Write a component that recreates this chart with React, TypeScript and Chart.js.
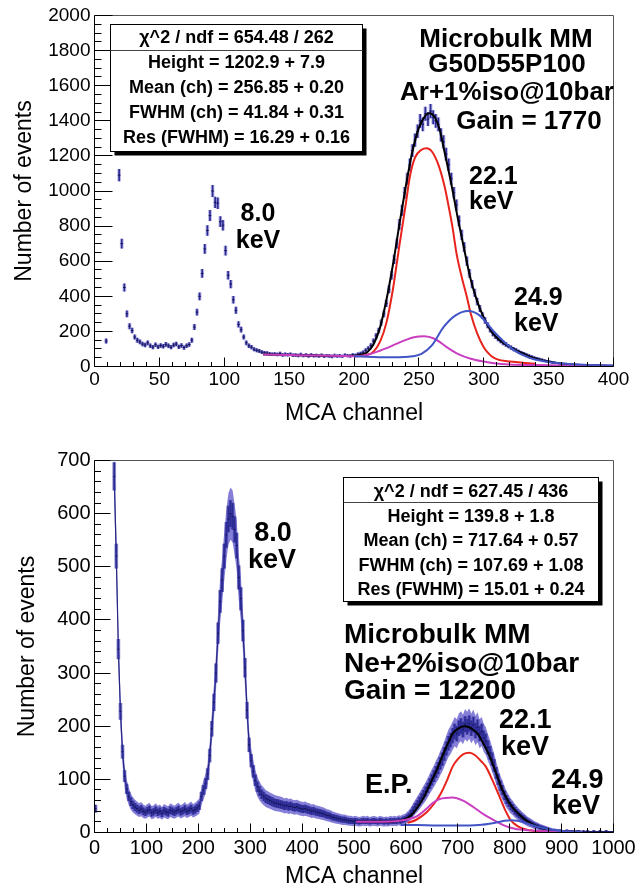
import React, { useEffect, useRef } from 'react';
import { Chart, registerables } from 'chart.js';

Chart.register(...registerables);

const FONT = '"Liberation Sans", Arial, Helvetica, sans-serif';

// ---------------- Panel 1 (Ar+1%iso) ----------------
const topBinStart = 9; // centre of first 2-channel bin
const topBinWidth = 2;
const topCounts: (number | null)[] = [
  145, null, null, null, null, 1090, 700, 450, 300, 230, // 9..27
  205, 168, 150, 140, 128, 122, 135, 118, 110, 124, // 29..47
  112, 120, 115, 126, 118, 110, 122, 128, 112, 120, // 49..67
  108, 118, 125, 150, 225, 310, 400, 530, 670, 775, // 69..87
  860, 1000, 935, 930, 825, 805, 660, 520, 470, 380, // 89..107
  320, 240, 210, 168, 135, 118, 110, 98, 92, 88, // 109..127
  82, 78, 76, 72, 70, 71, 68, 74, 66, 69, // 129..147
  67, 70, 64, 66, 63, 68, 62, 65, 60, 66, // 149..167
  61, 63, 59, 64, 58, 62, 60, 57, 63, 59, // 169..187
  61, 58, 64, 62, 60, 66, 63, 70, 74, 80, // 189..207
  92, 104, 120, 145, 175, 205, 250, 300, 360, 440, // 209..227
  520, 610, 700, 810, 890, 990, 1070, 1150, 1230, 1290, // 229..247
  1340, 1400, 1380, 1440, 1410, 1455, 1420, 1400, 1380, 1320, // 249..267
  1280, 1210, 1150, 1070, 990, 920, 830, 750, 680, 600, // 269..287
  530, 470, 420, 370, 330, 290, 262, 235, 210, 188, // 289..307
  172, 158, 146, 134, 126, 116, 108, 99, 92, 84, // 309..327
  78, 72, 65, 60, 55, 50, 46, 42, 38, 34, // 329..347
  30, 27, 24, 22, 20, 18, 16, 15, 14, 12, // 349..367
  11, 10, 11, 9, 8, 9, 7, 8, 6, 7, // 369..387
  6, 5, 6, 4, 5, 4, // 389..399
];
const topFitTotal: [number, number][] = [
  [130, 68], [150, 65], [170, 62], [190, 60], [200, 61], [205, 66], [210, 80], [215, 125],
  [220, 220], [225, 380], [230, 580], [235, 810], [240, 1030], [245, 1225], [250, 1360],
  [255, 1430], [258, 1443], [262, 1425], [266, 1350], [270, 1215], [275, 1040], [280, 845],
  [285, 665], [290, 495], [295, 370], [300, 280], [305, 210], [310, 165], [315, 135],
  [320, 112], [325, 92], [330, 74], [335, 58], [340, 45], [350, 27], [360, 16], [370, 10],
  [380, 7], [390, 5], [400, 4],
];
const topFit221: [number, number][] = [
  [200, 58], [210, 66], [215, 85], [220, 140], [225, 250], [230, 440], [235, 690], [240, 930],
  [243, 1080], [247, 1190], [252, 1235], [256, 1243], [260, 1225], [265, 1150], [270, 1020],
  [273, 910], [276, 790], [279, 645], [283, 510], [287, 396], [290, 300], [295, 187],
  [300, 110], [303, 80], [306, 58], [310, 42], [320, 28], [330, 22], [340, 15],
];
const topFitEscape: [number, number][] = [
  [130, 68], [150, 65], [170, 62], [190, 60], [200, 59], [210, 66], [220, 90], [230, 120],
  [240, 152], [247, 168], [254, 172], [262, 158], [272, 108], [280, 72], [290, 44], [300, 28],
  [308, 19], [320, 12], [340, 8], [360, 6], [380, 5], [400, 4],
];
const topFit249: [number, number][] = [
  [200, 58], [215, 54], [230, 52], [245, 58], [252, 72], [260, 120], [269, 224], [278, 290],
  [288, 316], [297, 290], [307, 205], [315, 145], [323, 95], [335, 50], [346, 30], [360, 17],
  [380, 9], [400, 5],
];
const topStats = [
  'χ^2 / ndf = 654.48 / 262',
  'Height = 1202.9 + 7.9',
  'Mean (ch) = 256.85 + 0.20',
  'FWHM (ch) = 41.84 + 0.31',
  'Res (FWHM) = 16.29 + 0.16',
];

// ---------------- Panel 2 (Ne+2%iso) ----------------
const botBinStart = 2; // centre of first 4-channel bin
const botBinWidth = 4;
const botCounts: (number | null)[] = [
  45, null, null, null, null, null, null, null, null, 670, // 2..38
  520, 345, 228, 152, 106, 82, 68, 58, 52, 48, // 42..78
  45, 42, 44, 40, 38, 41, 43, 37, 39, 42, // 82..118
  38, 40, 36, 41, 39, 37, 42, 40, 38, 41, // 122..158
  43, 39, 41, 44, 40, 42, 45, 41, 43, 46, // 162..198
  50, 68, 80, 92, 110, 145, 195, 245, 300, 375, // 202..238
  435, 475, 520, 560, 590, 600, 595, 570, 540, 480, // 242..278
  440, 380, 310, 230, 165, 135, 115, 98, 86, 78, // 282..318
  72, 68, 64, 62, 60, 58, 56, 55, 54, 53, // 322..358
  52, 50, 51, 49, 50, 48, 47, 48, 46, 45, // 362..398
  44, 45, 43, 42, 40, 41, 39, 38, 37, 36, // 402..438
  35, 33, 32, 31, 29, 28, 27, 26, 25, 24, // 442..478
  24, 23, 22, 22, 21, 22, 21, 20, 21, 22, // 482..518
  21, 22, 20, 21, 22, 21, 20, 22, 21, 20, // 522..558
  21, 20, 22, 21, 22, 21, 23, 22, 24, 25, // 562..598
  28, 31, 36, 42, 48, 53, 59, 65, 71, 77, // 602..638
  84, 92, 99, 106, 114, 121, 130, 138, 148, 158, // 642..678
  168, 174, 182, 190, 186, 196, 200, 194, 204, 199, // 682..718
  205, 196, 203, 192, 198, 186, 190, 178, 172, 160, // 722..758
  150, 138, 126, 112, 100, 88, 80, 70, 62, 56, // 762..798
  50, 46, 41, 37, 33, 30, 27, 24, 21, 19, // 802..838
  17, 15, 13, 12, 10, 9, 8, 7, 6, 5, // 842..878
  4, 4, 3, 3, 3, 2, 2, 3, 2, 2, // 882..918
  2, 1, 2, 2, 1, 2, 1, 2, 1, 1, // 922..958
  2, 1, 1, 2, 1, 1, 2, 1, 1, 1, // 962..998
];
const botFitTotal: [number, number][] = [
  [504, 20], [530, 20], [560, 20], [580, 21], [595, 24], [611, 33], [623, 48], [635, 67],
  [647, 92], [659, 117], [667, 136], [675, 155], [683, 172], [690, 186], [700, 195],
  [712, 200], [722, 198], [730, 193], [738, 186], [750, 166], [762, 142], [774, 111],
  [786, 80], [798, 58], [810, 42], [825, 28], [841, 17], [860, 9], [881, 4], [910, 2], [940, 1],
];
const botFit221: [number, number][] = [
  [603, 18], [620, 24], [640, 38], [655, 55], [667, 73], [680, 100], [690, 124], [700, 138],
  [710, 147], [722, 150], [734, 145], [745, 134], [754, 124], [766, 100], [778, 73], [790, 45],
  [802, 23], [815, 12], [833, 5], [860, 2], [900, 1], [940, 1],
];
const botFitEscape: [number, number][] = [
  [504, 20], [560, 20], [600, 24], [620, 30], [640, 45], [651, 55], [665, 63], [690, 66],
  [710, 60], [730, 48], [750, 34], [770, 23], [790, 13], [810, 7], [840, 4], [880, 2], [940, 1],
];
const botFit249: [number, number][] = [
  [590, 14], [620, 14], [660, 13], [700, 13], [740, 14], [770, 18], [790, 22], [802, 23],
  [815, 22], [830, 18], [850, 12], [870, 7], [900, 3], [940, 1],
];
const botStats = [
  'χ^2 / ndf = 627.45 / 436',
  'Height = 139.8 + 1.8',
  'Mean (ch) = 717.64 + 0.57',
  'FWHM (ch) = 107.69 + 1.08',
  'Res (FWHM) = 15.01 + 0.24',
];

// ---------------- layout / styling ----------------
type Txt = { t: string; x: number; y: number; align: CanvasTextAlign; size: number };
type PanelCfg = {
  height: number;
  padTop: number;
  padRight: number;
  yAxisWidth: number;
  xAxisHeight: number;
  xMax: number; xStep: number; xMinor: number;
  yMax: number; yStep: number; yMinor: number;
  yMajLen: number; yMinLen: number; xMajLen: number; xMinLen: number;
  tickSize: number; xTickPad: number; xTitlePad: number; yTitlePad: number;
  binStart: number; binWidth: number; counts: (number | null)[];
  fits: [number, number][][];
  markerRadius: number;
  bandSigma: number; // 0 = no shaded spread band
  stats: string[];
  box: { x: number; y: number; w: number; h: number; div: number; rows: number[] };
  texts: Txt[];
};

const topPanel: PanelCfg = {
  height: 440, padTop: 15.5, padRight: 28.5, yAxisWidth: 94.5, xAxisHeight: 73.5,
  xMax: 400, xStep: 50, xMinor: 10, yMax: 2000, yStep: 200, yMinor: 50,
  yMajLen: 18, yMinLen: 7, xMajLen: 9, xMinLen: 4.5,
  tickSize: 19, xTickPad: 2, xTitlePad: 14.5, yTitlePad: 13.5,
  binStart: topBinStart, binWidth: topBinWidth, counts: topCounts,
  fits: [topFitTotal, topFit221, topFitEscape, topFit249],
  markerRadius: 1.3,
  bandSigma: 0,
  stats: topStats,
  box: { x: 110.5, y: 24.5, w: 252, h: 127, div: 50.5, rows: [36.7, 62, 87, 112, 137] },
  texts: [
    { t: 'Microbulk MM', x: 506, y: 37.5, align: 'center', size: 26 },
    { t: 'G50D55P100', x: 507, y: 62.5, align: 'center', size: 26 },
    { t: 'Ar+1%iso@10bar', x: 507, y: 91, align: 'center', size: 26 },
    { t: 'Gain = 1770', x: 529, y: 120, align: 'center', size: 26 },
    { t: '8.0', x: 258, y: 212, align: 'center', size: 25 },
    { t: 'keV', x: 258, y: 239, align: 'center', size: 25 },
    { t: '22.1', x: 469, y: 175, align: 'left', size: 25 },
    { t: 'keV', x: 469, y: 200, align: 'left', size: 25 },
    { t: '24.9', x: 514, y: 296, align: 'left', size: 25 },
    { t: 'keV', x: 514, y: 322, align: 'left', size: 25 },
  ],
};

const bottomPanel: PanelCfg = {
  height: 447, padTop: 20.5, padRight: 28.5, yAxisWidth: 94.5, xAxisHeight: 54.5,
  xMax: 1000, xStep: 100, xMinor: 25, yMax: 700, yStep: 100, yMinor: 20,
  yMajLen: 16, yMinLen: 6.5, xMajLen: 9, xMinLen: 4.5,
  tickSize: 20, xTickPad: 4, xTitlePad: -1.5, yTitlePad: 16.5,
  binStart: botBinStart, binWidth: botBinWidth, counts: botCounts,
  fits: [botFitTotal, botFit221, botFitEscape, botFit249],
  markerRadius: 1,
  bandSigma: 2,
  stats: botStats,
  box: { x: 343.5, y: 37.5, w: 255, h: 124, div: 62.5, rows: [50.7, 76, 100, 124.3, 148.3] },
  texts: [
    { t: '8.0', x: 273, y: 91.7, align: 'center', size: 27 },
    { t: 'keV', x: 272, y: 118, align: 'center', size: 27 },
    { t: 'Microbulk MM', x: 344, y: 192.5, align: 'left', size: 28 },
    { t: 'Ne+2%iso@10bar', x: 344, y: 222, align: 'left', size: 28 },
    { t: 'Gain = 12200', x: 344, y: 249, align: 'left', size: 28 },
    { t: '22.1', x: 499, y: 278, align: 'left', size: 27 },
    { t: 'keV', x: 501, y: 305, align: 'left', size: 27 },
    { t: 'E.P.', x: 365, y: 343, align: 'left', size: 27 },
    { t: '24.9', x: 551, y: 338, align: 'left', size: 27 },
    { t: 'keV', x: 552, y: 364, align: 'left', size: 27 },
  ],
};

const FIT_COLORS = ['#000000', '#e8231c', '#c93fc0', '#4254c6'];

function decorPlugin(cfg: PanelCfg) {
  return {
    id: 'rootDecor',
    afterDraw(chart: any) {
      const { ctx, chartArea: a } = chart;
      const xs = chart.scales.x;
      const ys = chart.scales.y;
      ctx.save();
      // frame
      ctx.lineWidth = 1;
      ctx.strokeStyle = '#555';
      ctx.beginPath();
      ctx.moveTo(a.left, a.top);
      ctx.lineTo(a.right, a.top);
      ctx.lineTo(a.right, a.bottom);
      ctx.stroke();
      ctx.strokeStyle = '#000';
      ctx.beginPath();
      ctx.moveTo(a.left, a.top);
      ctx.lineTo(a.left, a.bottom);
      ctx.lineTo(a.right, a.bottom);
      ctx.stroke();
      // inner ticks
      ctx.beginPath();
      const nY = Math.round(cfg.yMax / cfg.yMinor);
      for (let i = 0; i <= nY; i++) {
        const v = i * cfg.yMinor;
        const major = Math.abs(v / cfg.yStep - Math.round(v / cfg.yStep)) < 1e-6;
        const py = Math.round(ys.getPixelForValue(v) - 0.5) + 0.5;
        ctx.moveTo(a.left, py);
        ctx.lineTo(a.left + (major ? cfg.yMajLen : cfg.yMinLen), py);
      }
      const nX = Math.round(cfg.xMax / cfg.xMinor);
      for (let i = 0; i <= nX; i++) {
        const v = i * cfg.xMinor;
        const major = Math.abs(v / cfg.xStep - Math.round(v / cfg.xStep)) < 1e-6;
        const px = Math.round(xs.getPixelForValue(v) - 0.5) + 0.5;
        ctx.moveTo(px, a.bottom);
        ctx.lineTo(px, a.bottom - (major ? cfg.xMajLen : cfg.xMinLen));
      }
      ctx.stroke();
      // stats box
      const b = cfg.box;
      ctx.fillStyle = '#000';
      ctx.fillRect(b.x + 4, b.y + 4, b.w, b.h);
      ctx.fillStyle = '#fff';
      ctx.fillRect(b.x, b.y, b.w, b.h);
      ctx.strokeStyle = '#000';
      ctx.strokeRect(b.x, b.y, b.w, b.h);
      ctx.strokeStyle = '#444';
      ctx.beginPath();
      ctx.moveTo(b.x, b.div);
      ctx.lineTo(b.x + b.w, b.div);
      ctx.stroke();
      ctx.fillStyle = '#000';
      ctx.textAlign = 'center';
      ctx.textBaseline = 'alphabetic';
      ctx.font = `bold 18px ${FONT}`;
      cfg.stats.forEach((s, i) => {
        ctx.fillText(s, b.x + b.w / 2, b.rows[i] + 0.36 * 18);
      });
      // annotations
      cfg.texts.forEach((t) => {
        ctx.font = `bold ${t.size}px ${FONT}`;
        ctx.textAlign = t.align;
        ctx.fillText(t.t, t.x, t.y + 0.36 * t.size);
      });
      ctx.restore();
    },
  };
}

function buildConfig(cfg: PanelCfg): any {
  const pts: { x: number; v: number }[] = [];
  cfg.counts.forEach((v, i) => {
    if (v != null) pts.push({ x: cfg.binStart + i * cfg.binWidth, v });
  });
  // Poisson error bars (±sqrt(N)) around each bin value
  const errData = pts.map((p) => ({ x: p.x, y: [p.v - Math.sqrt(p.v), p.v + Math.sqrt(p.v)] }));
  const fitSets = cfg.fits.map((f, i) => ({
    type: 'line',
    data: f.map(([x, y]) => ({ x, y })),
    borderColor: FIT_COLORS[i],
    borderWidth: 2,
    pointRadius: 0,
    fill: false,
    cubicInterpolationMode: 'monotone',
    order: 4 - i,
  }));
  const k = cfg.bandSigma;
  const binX = (i: number) => cfg.binStart + i * cfg.binWidth;
  const bandSets = k > 0
    ? [
        {
          type: 'line',
          data: cfg.counts.map((v, i) => ({ x: binX(i), y: v == null ? null : Math.max(0, v - k * Math.sqrt(v)) })),
          borderWidth: 0, pointRadius: 0, fill: false, order: 13, spanGaps: false,
          borderColor: 'rgba(0,0,0,0)',
        },
        {
          type: 'line',
          data: cfg.counts.map((v, i) => ({ x: binX(i), y: v == null ? null : v + k * Math.sqrt(v) })),
          borderWidth: 0, pointRadius: 0, fill: '-1', order: 12, spanGaps: false,
          borderColor: 'rgba(0,0,0,0)', backgroundColor: 'rgba(112,104,208,0.85)',
        },
        {
          type: 'line',
          data: cfg.counts.map((v, i) => ({ x: binX(i), y: v })),
          borderWidth: 1.2, pointRadius: 0, fill: false, order: 11, spanGaps: false,
          borderColor: '#25257f',
        },
      ]
    : [];
  const tickFont = { family: FONT, size: cfg.tickSize };
  return {
    type: 'line',
    data: {
      datasets: [
        ...bandSets,
        {
          type: 'bar', data: errData, backgroundColor: k > 0 ? 'rgba(60,55,170,0.6)' : 'rgba(125,118,215,0.55)',
          barThickness: 3, grouped: false, order: 10,
        },
        {
          type: 'bar', data: errData, backgroundColor: '#2b2b92',
          barThickness: 1, grouped: false, order: 9,
        },
        {
          type: 'line', data: pts.map((p) => ({ x: p.x, y: p.v })), showLine: false,
          pointStyle: 'line', pointRadius: cfg.markerRadius, pointBorderWidth: 1,
          pointBorderColor: '#141450', order: 8,
        },
        ...fitSets,
      ],
    },
    options: {
      responsive: false,
      animation: false,
      devicePixelRatio: 1,
      events: [],
      layout: { padding: { top: cfg.padTop, right: cfg.padRight, left: 0, bottom: 0 } },
      plugins: {
        legend: { display: false }, tooltip: { enabled: false }, title: { display: false },
        filler: { propagate: false },
      },
      scales: {
        x: {
          type: 'linear', min: 0, max: cfg.xMax, offset: false,
          afterFit: (s: any) => { s.height = cfg.xAxisHeight; },
          grid: { display: false, drawTicks: false },
          border: { display: false },
          ticks: {
            stepSize: cfg.xStep, autoSkip: false, maxRotation: 0, padding: cfg.xTickPad,
            color: '#000', font: tickFont, callback: (v: number) => String(v),
          },
          title: {
            display: true, text: 'MCA channel', color: '#000',
            font: { family: FONT, size: 23, lineHeight: 1 },
            padding: { top: 0, bottom: cfg.xTitlePad },
          },
        },
        y: {
          type: 'linear', min: 0, max: cfg.yMax,
          afterFit: (s: any) => { s.width = cfg.yAxisWidth; },
          grid: { display: false, drawTicks: false },
          border: { display: false },
          ticks: {
            stepSize: cfg.yStep, autoSkip: false, padding: 4,
            color: '#000', font: tickFont, callback: (v: number) => String(v),
          },
          title: {
            display: true, text: 'Number of events', color: '#000',
            font: { family: FONT, size: 23, lineHeight: 1 },
            padding: { top: cfg.yTitlePad, bottom: 0 },
          },
        },
      },
    },
    plugins: [decorPlugin(cfg)],
  };
}

function Panel({ cfg }: { cfg: PanelCfg }) {
  const ref = useRef<HTMLCanvasElement>(null);
  useEffect(() => {
    const chart = new Chart(ref.current as HTMLCanvasElement, buildConfig(cfg));
    return () => chart.destroy();
  }, [cfg]);
  return (
    <canvas
      ref={ref}
      width={642}
      height={cfg.height}
      style={{ display: 'block', width: 642, height: cfg.height }}
    />
  );
}

export default function App() {
  return (
    <div style={{ position: 'absolute', left: 0, top: 0, width: 642, height: 887, background: '#fff' }}>
      <Panel cfg={topPanel} />
      <Panel cfg={bottomPanel} />
    </div>
  );
}
